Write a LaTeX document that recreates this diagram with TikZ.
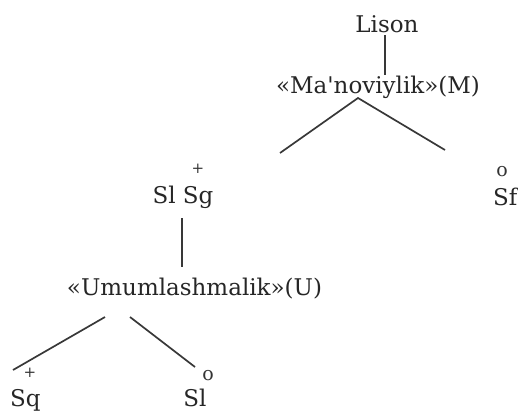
\documentclass[tikz,border=0pt]{standalone}
\usepackage{fontspec}
\setmainfont{DejaVu Serif}
\begin{document}
\begin{tikzpicture}[x=1pt,y=-1pt,
  lbl/.style={font=\fontsize{23}{26}\selectfont, text=black!85, inner sep=0pt},
  plussign/.style={font=\fontsize{15}{16}\selectfont, text=black!80, inner sep=0pt},
  zerosign/.style={font=\fontsize{19}{20}\selectfont, text=black!80, inner sep=0pt},
  branch/.style={line width=1.7pt, draw=black!78}]
\useasboundingbox (0,0) rectangle (518,415);

% upper level
\node[lbl,anchor=base] (lison) at (387,32) {Lison};
\node[lbl,anchor=base] (mnode) at (378,93) {«Ma\textquotesingle noviylik»(M)};
\coordinate (lisonFoot) at (385,35);
\coordinate (mHead) at (385,75);
\coordinate (mApex) at (358,98);
\coordinate (mLeft) at (280,153);
\coordinate (mRight) at (445,150);
\draw[branch] (lisonFoot) -- (mHead);
\draw[branch] (mLeft) -- (mApex) -- (mRight);

% marked and unmarked members
\node[plussign] (plusA) at (198,169) {+};
\node[lbl,anchor=base] (slsg) at (183,203) {Sl Sg};
\node[zerosign] (circA) at (502,172) {o};
\node[lbl,anchor=base east] (sf) at (517.5,205) {Sf};

% lower level
\node[lbl,anchor=base] (unode) at (194.5,295) {«Umumlashmalik»(U)};
\coordinate (sgFoot) at (182,218);
\coordinate (uHead) at (182,267);
\draw[branch] (sgFoot) -- (uHead);
\coordinate (uLeftTop) at (105,317);
\coordinate (uLeftEnd) at (13,370);
\coordinate (uRightTop) at (130,317);
\coordinate (uRightEnd) at (195,367);
\draw[branch] (uLeftTop) -- (uLeftEnd);
\draw[branch] (uRightTop) -- (uRightEnd);

\node[plussign] (plusB) at (30,373) {+};
\node[lbl,anchor=base west] (sq) at (10,406) {Sq};
\node[zerosign] (circB) at (208,376) {o};
\node[lbl,anchor=base] (sl) at (195,406) {Sl};
\end{tikzpicture}
\end{document}
